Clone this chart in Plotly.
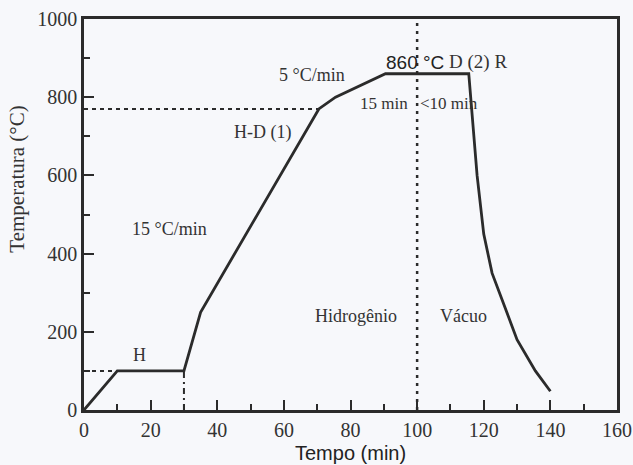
import plotly.graph_objects as go

# Data
tempo = [0, 10, 30, 35, 70.5, 75.5, 90.5, 115.5, 118, 120, 122.5, 125.5, 130, 135.5, 140]
temperatura = [0, 100, 100, 250, 770, 800, 860, 860, 600, 450, 350, 280, 180, 100, 48]

x_ticks = [0, 20, 40, 60, 80, 100, 120, 140, 160]
y_ticks = [0, 200, 400, 600, 800, 1000]

ink = "#2b2b2b"
serif = "Liberation Serif, Times New Roman, serif"
sans = "Liberation Sans, Arial, sans-serif"

fig = go.Figure()

# guide lines
fig.add_trace(go.Scatter(x=[0, 70.5], y=[770, 770], mode="lines",
                         line=dict(color=ink, width=2, dash="4px,4px"), hoverinfo="skip"))
fig.add_trace(go.Scatter(x=[0, 10], y=[100, 100], mode="lines",
                         line=dict(color=ink, width=2, dash="4px,4px"), hoverinfo="skip"))
fig.add_trace(go.Scatter(x=[30, 30], y=[0, 100], mode="lines",
                         line=dict(color=ink, width=2, dash="6px,4px,2px,4px"), hoverinfo="skip"))
fig.add_trace(go.Scatter(x=[100, 100], y=[0, 1000], mode="lines",
                         line=dict(color=ink, width=2.5, dash="3px,5px"), hoverinfo="skip"))

# main curve
fig.add_trace(go.Scatter(x=tempo, y=temperatura, mode="lines",
                         line=dict(color=ink, width=2.8), hoverinfo="skip"))

ann = [
    ("5 °C/min", 68.5, 857, serif, 18),
    ("H-D (1)", 53.7, 711, serif, 18),
    ("15 °C/min", 25.7, 463, serif, 18),
    ("H", 16.7, 140, serif, 18),
    ("15 min", 90, 785, serif, 17),
    ("<10 min", 109.5, 785, serif, 17),
    ("D (2) R", 118.3, 889, serif, 19),
    ("Hidrogênio", 81.5, 240, serif, 18),
    ("Vácuo", 113.8, 240, serif, 18),
]
for t, x, y, f, s in ann:
    fig.add_annotation(x=x, y=y, text=t, showarrow=False,
                       font=dict(family=f, size=s, color="#333"))
fig.add_annotation(x=99.5, y=888, text="860 °C", showarrow=False,
                   font=dict(family=sans, size=19, color="#222"))

# axis titles
fig.add_annotation(xref="paper", yref="paper", x=0.5, y=-0.110, text="Tempo (min)",
                   showarrow=False, xanchor="center", yanchor="middle",
                   font=dict(family=sans, size=20, color="#222"))
fig.add_annotation(xref="paper", yref="paper", x=-0.125, y=0.59, text="Temperatura (°C)",
                   showarrow=False, xanchor="center", yanchor="middle", textangle=-90,
                   font=dict(family=serif, size=21, color="#333"))

axis_common = dict(
    showline=True, linecolor=ink, linewidth=2.5, mirror=True,
    ticks="inside", ticklen=10, tickwidth=2.2, tickcolor=ink,
    showgrid=False, zeroline=False, automargin=False,
    ticklabeloverflow="allow",
    tickfont=dict(family=serif, size=20, color="#333"),
)

fig.update_xaxes(range=[0, 160], tickvals=x_ticks,
                 minor=dict(ticks="inside", ticklen=6, tickwidth=2, tickcolor=ink, dtick=10, showgrid=False),
                 **axis_common)
fig.update_yaxes(range=[0, 1000], tickvals=y_ticks,
                 minor=dict(ticks="inside", ticklen=6, tickwidth=2, tickcolor=ink, dtick=100, showgrid=False),
                 **axis_common)

fig.update_layout(
    width=633, height=465,
    margin=dict(l=84, r=16, t=19, b=55),
    showlegend=False,
    plot_bgcolor="#f7f8fb", paper_bgcolor="#f7f8fb",
)

fig.write_html("out.html")
